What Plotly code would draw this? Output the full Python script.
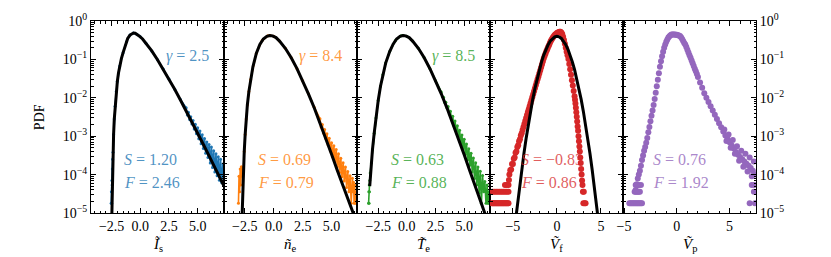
import plotly.graph_objects as go

FONT = "Liberation Serif"

# ---------------- data ----------------
# Panel 1: I_s (blue) with gamma fit
fit1_x = [-2.50, -2.46, -2.42, -2.38, -2.33, -2.27, -2.20, -2.10, -2.00, -1.90, -1.80, -1.65, -1.50, -1.30, -1.10,
          -0.90, -0.75, -0.60, -0.45, -0.30, -0.10, 0.20, 0.50, 1.00, 1.50, 2.00, 2.50, 3.00, 3.50, 4.00, 4.50,
          5.00, 5.50, 6.00, 6.50, 7.00, 7.30]
fit1_y = [5e-6, 2.5e-5, 1.0e-4, 3.5e-4, 1.1e-3, 2.8e-3, 6.0e-3, 0.0145, 0.027, 0.045, 0.067, 0.105, 0.150, 0.240,
          0.350, 0.430, 0.470, 0.487, 0.480, 0.455, 0.410, 0.340, 0.265, 0.166, 0.098, 0.0557, 0.0307, 0.0166,
          0.0088, 0.0046, 0.00236, 0.00121, 0.00061, 0.000307, 0.000154, 0.000076, 0.000050]
data1_x = [-2.54, -2.52, -2.50, -2.48, -2.46, -2.44, -2.42, -2.38, -2.33, -2.27, -2.2, -2.1, -2.0, -1.8, -1.5,
           -1.2, -0.9, -0.6, -0.3, 0.0, 0.5, 1.0, 1.5, 2.0, 2.5, 3.0, 3.5,
           4.0, 4.1, 4.2, 4.3, 4.4, 4.5, 4.6, 4.7, 4.8, 4.9, 5.0, 5.1, 5.2, 5.3, 5.4, 5.5, 5.6, 5.7, 5.8, 5.9,
           6.0, 6.1, 6.2, 6.3, 6.4, 6.5, 6.6, 6.7, 6.8, 6.9, 7.0, 7.1, 7.2, 7.3]
data1_y = [1.8e-5, 3.6e-5, 1.8e-5, 7e-5, 5.4e-5, 1.4e-4, 2.5e-4, 3.8e-4, 1.1e-3, 2.8e-3, 6.0e-3, 0.0145, 0.027,
           0.067, 0.150, 0.29, 0.43, 0.487, 0.455, 0.39, 0.265, 0.166, 0.098, 0.056, 0.031, 0.0168, 0.0090,
           5.5e-3, 3.58e-3, 4.2e-3, 2.73e-3, 3.2e-3, 2.08e-3, 2.56e-3, 1.55e-3, 2.05e-3, 1.15e-3, 1.67e-3,
           8.6e-4, 1.36e-3, 6.4e-4, 1.09e-3, 4.8e-4, 8.7e-4, 3.6e-4, 7.1e-4, 2.8e-4, 6.1e-4, 2.0e-4, 5.2e-4,
           1.53e-4, 4.2e-4, 1.17e-4, 3.5e-4, 9.3e-5, 2.9e-4, 7.1e-5, 2.5e-4, 6.1e-5, 1.9e-4, 5.2e-5]

# Panel 2: n_e (orange)
fit2_x = [-2.76, -2.72, -2.68, -2.62, -2.55, -2.47, -2.38, -2.28, -2.15, -2.0, -1.8, -1.5, -1.2, -0.9, -0.6,
          -0.35, -0.1, 0.2, 0.5, 1.0, 1.5, 2.0, 2.5, 3.0, 3.5, 4.0, 4.5, 5.0, 5.5, 6.0, 6.5, 6.9, 7.1]
fit2_y = [5e-6, 1.5e-5, 4e-5, 1.3e-4, 4e-4, 1.1e-3, 2.8e-3, 6.5e-3, 0.0145, 0.030, 0.064, 0.145, 0.245, 0.340,
          0.400, 0.420, 0.410, 0.370, 0.300, 0.195, 0.112, 0.0583, 0.0281, 0.0127, 0.0055, 0.00225, 0.00089,
          0.00034, 0.000128, 0.000050, 0.000020, 0.0000095, 0.0000065]
data2_x = [-3.05, -3.0, -2.95, -2.9, -2.85, -2.8, -2.75, -2.7, -2.62, -2.55, -2.47, -2.38, -2.28, -2.15, -2.0,
           -1.5, -1.0, -0.5, -0.3, 0.0, 0.5, 1.0, 1.5, 2.0, 2.5, 3.0, 3.5,
           4.0, 4.1, 4.2, 4.3, 4.4, 4.5, 4.6, 4.7, 4.8, 4.9, 5.0, 5.1, 5.2, 5.3, 5.4, 5.5, 5.6, 5.7, 5.8, 5.9,
           6.0, 6.1, 6.2, 6.3, 6.4, 6.5, 6.6, 6.7, 6.8, 6.85, 6.9, 6.95, 7.0, 7.05, 7.1, 7.15]
data2_y = [1.8e-5, 9e-5, 3.6e-5, 1.4e-4, 5.4e-5, 1.6e-4, 9e-5, 1.5e-4, 1.4e-4, 4e-4, 1.1e-3, 2.8e-3, 6.5e-3,
           0.0145, 0.030, 0.145, 0.31, 0.41, 0.42, 0.40, 0.30, 0.195, 0.112, 0.058, 0.028, 0.0128, 0.0057,
           2.83e-3, 1.74e-3, 2.03e-3, 1.22e-3, 1.49e-3, 8.7e-4, 1.15e-3, 6.0e-4, 8.8e-4, 4.1e-4, 6.8e-4,
           2.95e-4, 5.6e-4, 2.17e-4, 4.5e-4, 1.59e-4, 3.5e-4, 1.14e-4, 2.67e-4, 8.8e-5, 2.05e-4, 6.8e-5,
           1.58e-4, 4.6e-5, 1.21e-4, 3.6e-5, 9.3e-5, 1.8e-5, 8.0e-5, 3.6e-5, 6.3e-5, 1.8e-5, 5.4e-5, 1.8e-5,
           3.6e-5, 1.8e-5]

# Panel 3: T_e (green)
fit3_x = [-3.24, -3.1, -3.0, -2.85, -2.7, -2.5, -2.3, -2.1, -1.85, -1.5, -1.2, -0.9, -0.6, -0.35, -0.1, 0.2,
          0.5, 1.0, 1.5, 2.0, 2.5, 3.0, 3.5, 4.0, 4.5, 5.0, 5.5, 6.0, 6.5, 6.9, 7.1]
fit3_y = [5e-5, 2e-4, 4.5e-4, 1.2e-3, 3e-3, 8.5e-3, 0.020, 0.040, 0.080, 0.160, 0.250, 0.340, 0.400, 0.420,
          0.410, 0.370, 0.300, 0.195, 0.112, 0.058, 0.028, 0.0127, 0.0054, 0.0022, 0.00086, 0.00033, 0.000122,
          0.000046, 0.000018, 0.0000085, 0.0000055]
data3_x = [-3.34, -3.32, -3.3, -3.28, -3.26, -3.24, -3.2, -3.1, -3.0, -2.85, -2.7, -2.5, -2.3, -2.1, -1.85,
           -1.5, -1.0, -0.5, -0.3, 0.0, 0.5, 1.0, 1.5, 2.0, 2.5,
           3.0, 3.1, 3.2, 3.3, 3.4, 3.5, 3.6, 3.7, 3.8, 3.9, 4.0, 4.1, 4.2, 4.3, 4.4, 4.5, 4.6, 4.7, 4.8, 4.9,
           5.0, 5.1, 5.2, 5.3, 5.4, 5.5, 5.6, 5.7, 5.8, 5.9, 6.0, 6.1, 6.2, 6.3, 6.4, 6.5, 6.6, 6.7, 6.8,
           6.9, 7.0, 7.05, 7.1, 7.15, 7.2]
data3_y = [1.8e-5, 3.6e-5, 1.8e-5, 5.4e-5, 3.6e-5, 7e-5, 1.1e-4, 2e-4, 4.5e-4, 1.2e-3, 3e-3, 8.5e-3, 0.020,
           0.040, 0.080, 0.160, 0.31, 0.41, 0.42, 0.40, 0.30, 0.195, 0.112, 0.058, 0.028,
           0.01426, 0.01072, 0.01035, 7.6e-3, 7.7e-3, 5.4e-3, 5.9e-3, 3.77e-3, 4.45e-3, 2.63e-3, 3.33e-3,
           1.9e-3, 2.5e-3, 1.34e-3, 1.88e-3, 9.6e-4, 1.42e-3, 6.7e-4, 1.08e-3, 4.8e-4, 8.3e-4, 3.4e-4, 6.3e-4,
           2.4e-4, 4.7e-4, 1.74e-4, 3.6e-4, 1.17e-4, 2.7e-4, 7.9e-5, 2.04e-4, 5.4e-5, 1.58e-4, 3.3e-5,
           1.23e-4, 1.8e-5, 9.5e-5, 3.6e-5, 6.6e-5, 1.8e-5, 5.4e-5, 1.8e-5, 3.6e-5, 1.8e-5, 2.5e-5]

# Panel 4: V_f (red) with normal fit
fit4_x = [-4.7, -4.5, -4.25, -4.0, -3.75, -3.5, -3.25, -3.0, -2.75, -2.5, -2.25, -2.0, -1.75, -1.5, -1.25,
          -1.0, -0.75, -0.5, -0.25, 0.0, 0.25, 0.5, 0.75, 1.0, 1.25, 1.5, 1.75, 2.0, 2.25, 2.5, 2.75, 3.0,
          3.25, 3.5, 3.75, 4.0, 4.25, 4.5, 4.7]
fit4_y = [6.4e-6, 1.6e-5, 4.94e-5, 1.34e-4, 3.53e-4, 8.73e-4, 2.03e-3, 4.43e-3, 9.1e-3, 0.0175, 0.0317, 0.054,
          0.0863, 0.1295, 0.1826, 0.242, 0.3011, 0.352, 0.3867, 0.399, 0.3867, 0.352, 0.3011, 0.242, 0.1826,
          0.1295, 0.0863, 0.054, 0.0317, 0.0175, 9.1e-3, 4.43e-3, 2.03e-3, 8.73e-4, 3.53e-4, 1.34e-4,
          4.94e-5, 1.6e-5, 6.4e-6]
data4_x = [-7.4, -7.3, -7.2, -7.1, -7.0, -6.9, -6.8, -6.7, -6.6, -6.5, -6.4, -6.3, -6.2, -6.1, -6.0, -5.9,
           -5.8, -5.7, -5.6, -5.5,
           -7.3, -7.1, -6.9, -6.7, -6.5, -6.3, -6.1, -5.9, -5.7, -5.5,
           -5.9, -5.7, -5.5, -5.45,
           -5.4, -5.3, -5.2, -5.1, -5.0, -4.9, -4.8, -4.7, -4.6, -4.5, -4.4, -4.3, -4.2, -4.1, -4.0, -3.9,
           -3.8, -3.7, -3.6, -3.5, -3.4, -3.3, -3.2, -3.1, -3.0, -2.9, -2.8, -2.7, -2.6, -2.5, -2.4, -2.3,
           -2.2, -2.1, -2.0, -1.9, -1.8, -1.7, -1.6, -1.5, -1.4, -1.3, -1.2, -1.1, -1.0, -0.9, -0.8, -0.7,
           -0.6, -0.5, -0.4, -0.3, -0.2, -0.1, 0.0, 0.1, 0.2, 0.3, 0.4, 0.5, 0.6, 0.7, 0.8, 0.9, 1.0, 1.1,
           1.2, 1.3, 1.4, 1.5, 1.6, 1.7, 1.8, 1.9, 2.0, 2.05, 2.1, 2.15, 2.2, 2.25, 2.3, 2.35, 2.4, 2.45,
           2.5, 2.55, 2.6, 2.65, 2.7, 2.75, 2.8, 2.85, 2.9, 2.95, 3.0, 3.05, 3.15, 3.25]
data4_y = [1.8e-5] * 20 + [3.6e-5] * 10 + [5.4e-5, 5.4e-5, 5.4e-5, 7.2e-5] + [
           1.0e-4, 1.3e-4, 1.35e-4, 1.9e-4, 1.9e-4, 2.6e-4, 2.8e-4, 3.7e-4, 4.0e-4, 5.2e-4, 5.8e-4, 7.4e-4,
           8.3e-4, 1.05e-3, 1.2e-3, 1.45e-3, 1.74e-3, 2.08e-3, 2.48e-3, 2.97e-3, 3.55e-3, 4.24e-3, 5.07e-3,
           6.06e-3, 7.24e-3, 8.66e-3, 0.0104, 0.0124, 0.0148, 0.0177, 0.0211, 0.0253, 0.0302, 0.0361, 0.0432,
           0.0516, 0.0617, 0.0737, 0.0881, 0.105, 0.123, 0.141, 0.162, 0.184, 0.209, 0.234, 0.266, 0.302,
           0.331, 0.359, 0.389, 0.417, 0.442, 0.462, 0.484, 0.500, 0.513, 0.522, 0.525, 0.505, 0.46, 0.39,
           0.32, 0.255, 0.200, 0.158, 0.129, 0.102, 0.0759, 0.055, 0.0398, 0.0288, 0.0209, 0.0151, 0.0110,
           0.0089, 0.0071, 0.0055, 0.0042, 0.0032, 0.0024, 0.0018, 0.00138, 0.0010, 0.00074, 0.00054, 0.0004,
           0.00028, 0.0002, 0.00014, 0.0001, 0.00007, 0.000054, 0.000036, 0.000018, 0.000036, 0.000018,
           0.000018]

# Panel 5: V_p (purple), no fit
data5_x = [-4.5, -4.4, -4.3, -4.2, -4.1, -4.0, -3.9, -3.8, -3.7, -3.6, -3.5, -3.4, -3.3,
           -4.0, -3.9, -3.8, -3.7, -3.6, -3.5,
           -3.9, -3.7, -3.6, -3.4,
           -3.9, -3.8, -3.7, -3.6, -3.5, -3.4, -3.3, -3.2, -3.1, -3.0, -2.9, -2.8, -2.7, -2.6, -2.5, -2.4,
           -2.3, -2.2, -2.1, -2.0, -1.9, -1.8, -1.7, -1.6, -1.5, -1.4, -1.3, -1.2, -1.1, -1.0, -0.9, -0.8,
           -0.7, -0.6, -0.5, -0.4, -0.3, -0.2, -0.1, 0.0, 0.1, 0.2, 0.3, 0.4, 0.5, 0.6, 0.7, 0.8, 0.9, 1.0,
           1.1, 1.2, 1.3, 1.4, 1.5, 1.6, 1.7, 1.8, 1.9, 2.0, 2.2, 2.4, 2.6, 2.8, 3.0, 3.2, 3.4, 3.6, 3.8,
           4.0, 4.2, 4.4, 4.6, 4.8, 5.0, 5.2, 5.4, 5.6, 5.8, 6.0, 6.2, 6.4, 6.6, 6.8, 7.0, 7.2, 7.4,
           4.5, 4.7, 4.9, 5.1, 5.3, 5.5, 5.7, 5.9, 6.1, 6.3, 6.5, 6.7, 6.9, 7.1, 7.3,
           6.9, 7.3, 7.35, 7.1, 7.4]
data5_y = [1.8e-5] * 13 + [3.6e-5] * 6 + [5.4e-5] * 4 + [
           3.98e-5, 5.6e-5, 7.9e-5, 1.0e-4, 1.26e-4, 1.70e-4, 2.40e-4, 3.16e-4, 4.17e-4, 5.25e-4, 6.76e-4,
           8.91e-4, 1.26e-3, 1.74e-3, 2.45e-3, 3.39e-3, 4.68e-3, 6.46e-3, 9.33e-3, 0.0135, 0.0200, 0.0295,
           0.0437, 0.0646, 0.0891, 0.120, 0.158, 0.200, 0.245, 0.288, 0.331, 0.372, 0.403, 0.427, 0.442,
           0.447, 0.447, 0.445, 0.441, 0.437, 0.427, 0.417, 0.407, 0.380, 0.339, 0.302, 0.269, 0.245, 0.209,
           0.178, 0.151, 0.129, 0.110, 0.0933, 0.0794, 0.0676, 0.0575, 0.0490, 0.0417, 0.0347, 0.0251,
           0.0182, 0.0132, 0.0100, 7.76e-3, 6.03e-3, 4.68e-3, 3.63e-3, 2.82e-3, 2.19e-3, 1.70e-3, 1.32e-3,
           1.05e-3, 8.51e-4, 6.92e-4, 5.75e-4, 4.79e-4, 3.89e-4, 3.31e-4, 2.88e-4, 2.51e-4, 2.19e-4, 1.91e-4,
           1.70e-4, 1.48e-4, 1.26e-4, 1.0e-4,
           1.5e-3, 7.5e-4, 1.1e-3, 5e-4, 8e-4, 3.5e-4, 5.5e-4, 2.3e-4, 4.2e-4, 1.6e-4, 3.5e-4, 1.2e-4, 2.8e-4,
           9e-5, 2.2e-4,
           1.8e-5, 3.6e-5, 5.4e-5, 5.4e-5, 1.8e-5]

gamma_labels = ["2.5", "8.4", "8.5", None, None]
skew_labels = ["1.20", "0.69", "0.63", "−0.83", "0.76"]
flat_labels = ["2.46", "0.79", "0.88", "0.86", "1.92"]
xtitles = ["<i>Ĩ</i><sub>s</sub>", "<i>ñ</i><sub>e</sub>", "<i>T̃</i><sub>e</sub>",
           "<i>Ṽ</i><sub>f</sub>", "<i>Ṽ</i><sub>p</sub>"]
xtick_vals = [[-2.5, 0, 2.5, 5]] * 3 + [[-5, 0, 5]] * 2
xtick_text = [["−2.5", "0.0", "2.5", "5.0"]] * 3 + [["−5", "0", "5"]] * 2
ytick_vals = [1e-5, 1e-4, 1e-3, 1e-2, 1e-1, 1]
ytick_text = ["10<sup>−5</sup>", "10<sup>−4</sup>", "10<sup>−3</sup>", "10<sup>−2</sup>",
              "10<sup>−1</sup>", "10<sup>0</sup>"]

# ---------------- figure ----------------
colors = ["#1f77b4", "#ff7f0e", "#2ca02c", "#d62728", "#9467bd"]
tcolors = ["rgba(31,119,180,0.8)", "rgba(255,127,14,0.8)", "rgba(44,160,44,0.8)",
           "rgba(214,39,40,0.75)", "rgba(148,103,189,0.8)"]
xranges = [[-4.3, 7.3], [-4.3, 7.2], [-4.35, 7.25], [-7.6, 7.5], [-5.1, 7.5]]
xminor = [0.5, 0.5, 0.5, 1, 1]
sf_x = [0.23, 0.24, 0.24, 0.215, 0.21]

data_x = [data1_x, data2_x, data3_x, data4_x, data5_x]
data_y = [data1_y, data2_y, data3_y, data4_y, data5_y]
fits = [(fit1_x, fit1_y), (fit2_x, fit2_y), (fit3_x, fit3_y), (fit4_x, fit4_y), None]

minor_y = [k * 10.0 ** e for e in range(-5, 0) for k in range(2, 10)]

fig = go.Figure()
annotations = []
for i in range(5):
    n = "" if i == 0 else str(i + 1)
    if i < 3:
        fig.add_trace(go.Scatter(x=data_x[i], y=data_y[i], mode="lines+markers",
                                 line=dict(color=colors[i], width=1.6),
                                 marker=dict(color=colors[i], size=3),
                                 xaxis="x" + n, yaxis="y" + n, showlegend=False))
    else:
        fig.add_trace(go.Scatter(x=data_x[i], y=data_y[i], mode="markers",
                                 marker=dict(color=colors[i], size=6),
                                 xaxis="x" + n, yaxis="y" + n, showlegend=False))
    if fits[i] is not None:
        fig.add_trace(go.Scatter(x=fits[i][0], y=fits[i][1], mode="lines",
                                 line=dict(color="black", width=3),
                                 xaxis="x" + n, yaxis="y" + n, showlegend=False))

    fig.layout["xaxis" + n] = dict(
        domain=[i / 5, (i + 1) / 5], anchor="y" + n, range=xranges[i], automargin=False,
        tickvals=xtick_vals[i], ticktext=xtick_text[i],
        ticks="inside", ticklen=5, tickwidth=1, tickcolor="black",
        mirror="allticks", showline=True, linecolor="black", linewidth=1,
        showgrid=False, zeroline=False,
        minor=dict(ticks="inside", ticklen=2.5, tickwidth=1, tickcolor="black",
                   dtick=xminor[i], tick0=0, showgrid=False),
        tickfont=dict(family=FONT, size=14, color="black"))
    fig.layout["yaxis" + n] = dict(
        type="log", range=[-5, 0], domain=[0, 1], anchor="x" + n, automargin=False,
        tickvals=ytick_vals, ticktext=ytick_text,
        ticks="inside", ticklen=5, tickwidth=1, tickcolor="black",
        mirror="allticks", showline=True, linecolor="black", linewidth=1,
        showgrid=False, zeroline=False,
        showticklabels=(i in (0, 4)), side="right" if i == 4 else "left",
        minor=dict(ticks="inside", ticklen=2.5, tickwidth=1, tickcolor="black",
                   tickvals=minor_y, showgrid=False),
        tickfont=dict(family=FONT, size=14, color="black"))

    fnt = dict(family=FONT, size=16, color=tcolors[i])
    if gamma_labels[i] is not None:
        annotations.append(dict(text="<i>γ</i> = " + gamma_labels[i], x=0.9, y=0.818,
                                xref="x" + n + " domain", yref="y" + n + " domain",
                                xanchor="right", yanchor="middle", showarrow=False, font=fnt))
    annotations.append(dict(text="<i>S</i> = " + skew_labels[i], x=sf_x[i], y=0.281,
                            xref="x" + n + " domain", yref="y" + n + " domain",
                            xanchor="left", yanchor="middle", showarrow=False, font=fnt))
    annotations.append(dict(text="<i>F</i> = " + flat_labels[i], x=sf_x[i], y=0.161,
                            xref="x" + n + " domain", yref="y" + n + " domain",
                            xanchor="left", yanchor="middle", showarrow=False, font=fnt))
    annotations.append(dict(text=xtitles[i], x=(i + 0.5) / 5, y=-0.167, xref="paper", yref="paper",
                            xanchor="center", yanchor="middle", showarrow=False,
                            font=dict(family=FONT, size=15, color="black")))

annotations.append(dict(text="PDF", x=-0.078, y=0.5, xref="paper", yref="paper", textangle=-90,
                        xanchor="center", yanchor="middle", showarrow=False,
                        font=dict(family=FONT, size=14, color="black")))

fig.update_layout(width=831, height=257, margin=dict(l=83, r=83, t=13, b=52, autoexpand=False),
                  plot_bgcolor="white", paper_bgcolor="white", annotations=annotations,
                  showlegend=False)

fig.write_html("out.html")
